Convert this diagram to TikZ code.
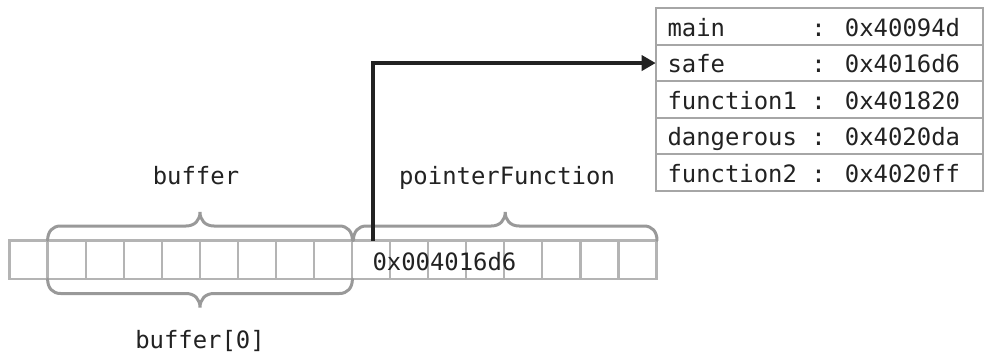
\documentclass[tikz,border=0pt]{standalone}
\usepackage{fontspec}
\newfontfamily\code{DejaVu Sans Mono}
\usetikzlibrary{arrows.meta,calc}
\definecolor{cellc}{HTML}{B4B4B4}
\definecolor{bracec}{HTML}{999999}
\definecolor{tabc}{HTML}{A6A6A6}
\definecolor{inkc}{HTML}{222222}
\tikzset{
  cell/.style={draw=cellc,line width=2.2pt,minimum width=38.06pt,minimum height=38.5pt,inner sep=0pt,outer sep=0pt},
  row/.style={draw=tabc,line width=2pt,minimum width=327.6pt,minimum height=36.6pt,inner sep=0pt,outer sep=0pt},
  lbl/.style={font=\code\fontsize{23.9}{28}\selectfont,text=inkc,inner sep=0pt,anchor=base},
  tlbl/.style={lbl,anchor=base west},
  brace/.style={draw=bracec,line width=3pt,line cap=round},
  ptr/.style={draw=inkc,line width=4pt,-{Triangle[length=14pt,width=15pt]}}
}
\newcommand\mybrace[4]{%
  \draw[brace] (#1,#3) .. controls (#1,{#3+(#4)*9}) and ({#1+5},{#3+(#4)*14.5}) .. ({#1+13},{#3+(#4)*14.5})
    -- ({(#1+#2)/2-14},{#3+(#4)*14.5}) .. controls ({(#1+#2)/2-5},{#3+(#4)*14.5}) and ({(#1+#2)/2},{#3+(#4)*20.5}) .. ({(#1+#2)/2},{#3+(#4)*28.5})
    .. controls ({(#1+#2)/2},{#3+(#4)*20.5}) and ({(#1+#2)/2+5},{#3+(#4)*14.5}) .. ({(#1+#2)/2+14},{#3+(#4)*14.5})
    -- ({#2-13},{#3+(#4)*14.5}) .. controls ({#2-5},{#3+(#4)*14.5}) and (#2,{#3+(#4)*9}) .. (#2,#3);}
\begin{document}
\begin{tikzpicture}[x=1pt,y=-1pt]
\useasboundingbox[fill=white] (0,0) rectangle (987,358);
% memory cells
\foreach \i in {0,...,16}{
  \node[cell] (c\i) at ({28.53+38.06*\i},259.75) {};
}
% braces
\mybrace{47.6}{352.4}{240.5}{-1}
\mybrace{47.6}{352.4}{279}{1}
\mybrace{353.4}{657}{240.5}{-1}
% labels
\node[lbl] (lbuf) at (196,185) {buffer};
\node[lbl] (lptr) at (507,185) {pointerFunction};
\node[lbl] (lbuf0) at (200,348) {buffer[0]};
\node[tlbl] (val) at (372.3,270) {0x004016d6};
% function table
\foreach \j/\t in {1/main~~~~~~: 0x40094d,2/safe~~~~~~: 0x4016d6,3/function1 : 0x401820,4/dangerous : 0x4020da,5/function2 : 0x4020ff}{
  \node[row] (r\j) at (819.5,{8.3+36.5*(\j-0.5)}) {};
  \node[tlbl] (t\j) at (667.3,{8.3+36.5*\j-8.3}) {\t};
}
% pointer arrow
\draw[ptr] ([xshift=1.5pt]c9.north) |- (r2.west);
\end{tikzpicture}
\end{document}
